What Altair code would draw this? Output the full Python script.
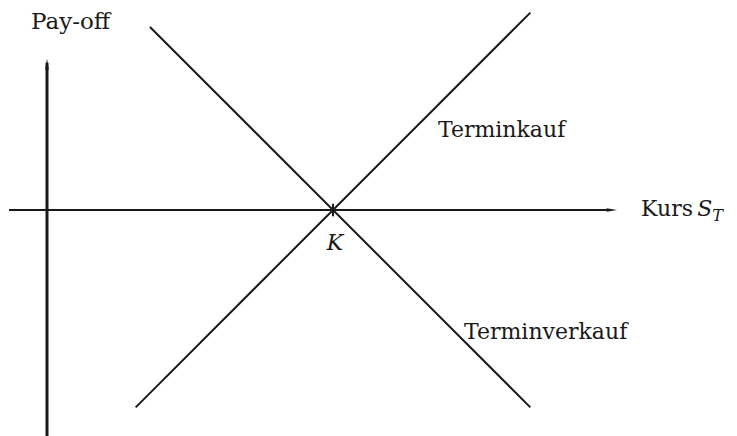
import altair as alt
import pandas as pd

# ---- data (payoff units; strike K = 100) ----
K = 100
series = ["Terminkauf", "Terminkauf", "Terminverkauf", "Terminverkauf"]
kurs = [31, 169, 36, 169]
payoff = [s - K if n == "Terminkauf" else K - s for n, s in zip(series, kurs)]

# axes (x-axis: Kurs S_T, y-axis: Pay-off)
x_axis_kurs = [-13.3, 196.0]
x_axis_payoff = [0, 0]
y_axis_kurs = [0, 0]
y_axis_payoff = [-79.0, 51.5]
arrow_x = [197.5]          # tip region of horizontal arrow
arrow_y = [51.0]           # tip region of vertical arrow

# labels
lab_text = ["Pay-off", "Terminkauf", "Terminverkauf", "Kurs"]
lab_kurs = [-5.6, 136.7, 145.8, 207.7]
lab_payoff = [63.3, 25.5, -45.1, -2.1]
lab_size = [23, 22, 22, 22]

X_DOM = [-13.64, 238.46]
Y_DOM = [-79.02, 70.63]
FONT = "DejaVu Serif"
INK = "#1a1a1a"

xs = alt.Scale(domain=X_DOM, nice=False, zero=False)
ys = alt.Scale(domain=Y_DOM, nice=False, zero=False)

lines_df = pd.DataFrame({"series": series, "kurs": kurs, "payoff": payoff})
lines = alt.Chart(lines_df).mark_line(color=INK, strokeWidth=2).encode(
    x=alt.X("kurs:Q", scale=xs, axis=None),
    y=alt.Y("payoff:Q", scale=ys, axis=None),
    detail="series:N",
)

hax = alt.Chart(pd.DataFrame({"x": [x_axis_kurs[0]], "x2": [x_axis_kurs[1]], "y": [x_axis_payoff[0]]})).mark_rule(
    color=INK, strokeWidth=2
).encode(x=alt.X("x:Q", scale=xs, axis=None), x2="x2:Q", y=alt.Y("y:Q", scale=ys, axis=None))

vax = alt.Chart(pd.DataFrame({"x": [y_axis_kurs[0]], "y": [y_axis_payoff[0]], "y2": [y_axis_payoff[1]]})).mark_rule(
    color=INK, strokeWidth=3
).encode(x=alt.X("x:Q", scale=xs, axis=None), y=alt.Y("y:Q", scale=ys, axis=None), y2="y2:Q")

harrow = alt.Chart(pd.DataFrame({"x": arrow_x, "y": [0]})).mark_point(
    shape="M-1,-0.32L1,0L-1,0.32Z", filled=True, color=INK, opacity=1, size=110
).encode(x=alt.X("x:Q", scale=xs, axis=None), y=alt.Y("y:Q", scale=ys, axis=None))

varrow = alt.Chart(pd.DataFrame({"x": [0], "y": arrow_y})).mark_point(
    shape="M-0.32,1L0,-1L0.32,1Z", filled=True, color=INK, opacity=1, size=130
).encode(x=alt.X("x:Q", scale=xs, axis=None), y=alt.Y("y:Q", scale=ys, axis=None))

ktick = alt.Chart(pd.DataFrame({"x": [K], "y": [-2.2], "y2": [2.2]})).mark_rule(
    color=INK, strokeWidth=2
).encode(x=alt.X("x:Q", scale=xs, axis=None), y=alt.Y("y:Q", scale=ys, axis=None), y2="y2:Q")

labels = alt.Chart(pd.DataFrame({"t": lab_text, "x": lab_kurs, "y": lab_payoff, "s": lab_size})).mark_text(
    font=FONT, align="left", baseline="alphabetic", color=INK
).encode(
    x=alt.X("x:Q", scale=xs, axis=None), y=alt.Y("y:Q", scale=ys, axis=None), text="t:N",
    size=alt.Size("s:Q", scale=None, legend=None),
)

k_label = alt.Chart(pd.DataFrame({"t": ["K"], "x": [100.7], "y": [-14.0]})).mark_text(
    font=FONT, fontSize=22, fontStyle="italic", align="center", baseline="alphabetic", color=INK
).encode(x=alt.X("x:Q", scale=xs, axis=None), y=alt.Y("y:Q", scale=ys, axis=None), text="t:N")

s_label = alt.Chart(pd.DataFrame({"t": ["S"], "x": [227.4], "y": [-2.1]})).mark_text(
    font=FONT, fontSize=22, fontStyle="italic", align="left", baseline="alphabetic", color=INK
).encode(x=alt.X("x:Q", scale=xs, axis=None), y=alt.Y("y:Q", scale=ys, axis=None), text="t:N")

t_label = alt.Chart(pd.DataFrame({"t": ["T"], "x": [232.6], "y": [-4.0]})).mark_text(
    font=FONT, fontSize=16, fontStyle="italic", align="left", baseline="alphabetic", color=INK
).encode(x=alt.X("x:Q", scale=xs, axis=None), y=alt.Y("y:Q", scale=ys, axis=None), text="t:N")

chart = alt.layer(
    hax, vax, harrow, varrow, lines, ktick, labels, k_label, s_label, t_label
).properties(
    width=721, height=428, autosize=alt.AutoSizeParams(type="none"), padding=0
).configure_view(stroke=None)

chart.save("out.html", embed_options={"renderer": "svg", "actions": False})
